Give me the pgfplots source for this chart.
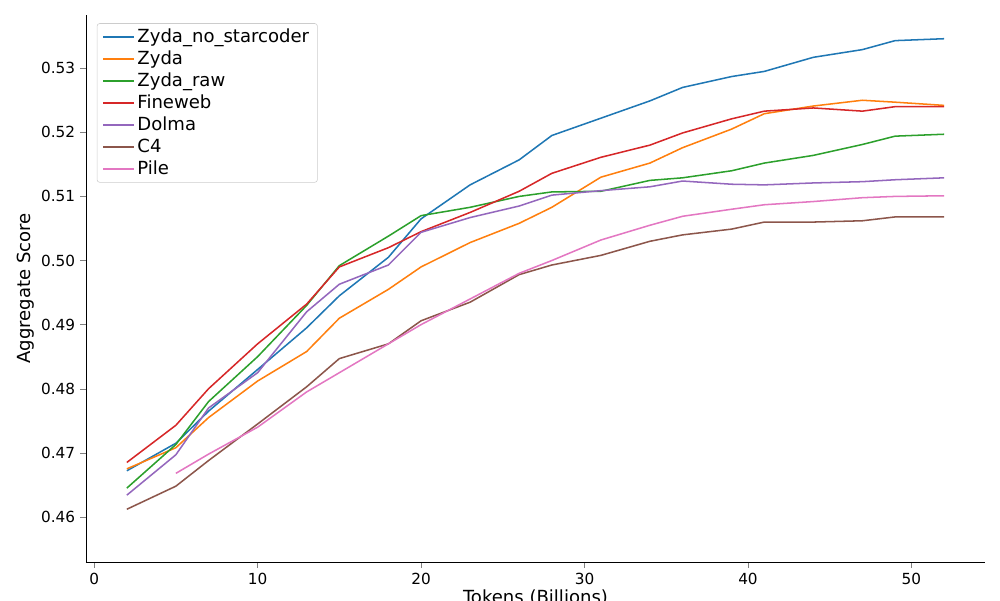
\documentclass[border=0pt]{standalone}
\usepackage{pgfplots}
\pgfplotsset{compat=1.18}
\usepackage{fontspec}
\setmainfont{DejaVu Sans}
\definecolor{c0}{HTML}{1F77B4}\definecolor{c1}{HTML}{FF7F0E}\definecolor{c2}{HTML}{2CA02C}
\definecolor{c3}{HTML}{D62728}\definecolor{c4}{HTML}{9467BD}\definecolor{c5}{HTML}{8C564B}
\definecolor{c6}{HTML}{E377C2}
\begin{document}
\begin{tikzpicture}
\useasboundingbox (-61.9pt,-27.4pt) rectangle (658.1pt,404.6pt);
\begin{axis}[at={(0,0)},anchor=south west,
 scale only axis, width=647.3pt, height=393.8pt,
 xmin=-0.5, xmax=54.5, ymin=0.45298, ymax=0.5383,
 axis lines*=left, tick align=outside,
 xtick={0,10,20,30,40,50}, ytick={0.46,0.47,0.48,0.49,0.50,0.51,0.52,0.53},
 yticklabel style={/pgf/number format/.cd,fixed,fixed zerofill,precision=2},
 /pgf/number format/assume math mode=true,
 ticklabel style={font=\fontsize{11}{13}\selectfont},
 xlabel={Tokens (Billions)}, ylabel={Aggregate Score},
 xlabel style={font=\fontsize{13}{15}\selectfont, yshift=3pt},
 ylabel style={font=\fontsize{13}{15}\selectfont, yshift=-2pt},
 legend style={font=\fontsize{13}{16}\selectfont, draw=black!20, rounded corners=2pt, row sep=0.5pt, at={(0.012,0.985)}, anchor=north west, inner xsep=4pt},
 legend cell align=left,
 legend image code/.code={\draw[#1] (0pt,0pt) -- (22pt,0pt);},
 every axis plot/.append style={line width=1.1pt, no marks},
]
\addplot[c0] coordinates {(2,0.4672)(5,0.4715)(7,0.4765)(10,0.4830)(13,0.4895)(15,0.4945)(18,0.5005)(20,0.5065)(23,0.5118)(26,0.5157)(28,0.5195)(31,0.5222)(34,0.5249)(36,0.5270)(39,0.5287)(41,0.5295)(44,0.5317)(47,0.5329)(49,0.5343)(52,0.5346)};
\addlegendentry{Zyda\_no\_starcoder}
\addplot[c1] coordinates {(2,0.4675)(5,0.4708)(7,0.4755)(10,0.4812)(13,0.4858)(15,0.4910)(18,0.4955)(20,0.4990)(23,0.5028)(26,0.5058)(28,0.5083)(31,0.5130)(34,0.5152)(36,0.5176)(39,0.5205)(41,0.5229)(44,0.5241)(47,0.5250)(49,0.5247)(52,0.5242)};
\addlegendentry{Zyda}
\addplot[c2] coordinates {(2,0.4645)(5,0.4713)(7,0.4780)(10,0.4850)(13,0.4930)(15,0.4992)(18,0.5038)(20,0.5070)(23,0.5083)(26,0.5100)(28,0.5107)(31,0.5108)(34,0.5125)(36,0.5129)(39,0.5140)(41,0.5152)(44,0.5164)(47,0.5181)(49,0.5194)(52,0.5197)};
\addlegendentry{Zyda\_raw}
\addplot[c3] coordinates {(2,0.4685)(5,0.4743)(7,0.4800)(10,0.4870)(13,0.4932)(15,0.4990)(18,0.5020)(20,0.5045)(23,0.5075)(26,0.5108)(28,0.5136)(31,0.5161)(34,0.5180)(36,0.5199)(39,0.5221)(41,0.5233)(44,0.5238)(47,0.5233)(49,0.5240)(52,0.5240)};
\addlegendentry{Fineweb}
\addplot[c4] coordinates {(2,0.4634)(5,0.4697)(7,0.4770)(10,0.4825)(13,0.4920)(15,0.4963)(18,0.4993)(20,0.5044)(23,0.5067)(26,0.5085)(28,0.5102)(31,0.5109)(34,0.5115)(36,0.5124)(39,0.5119)(41,0.5118)(44,0.5121)(47,0.5123)(49,0.5126)(52,0.5129)};
\addlegendentry{Dolma}
\addplot[c5] coordinates {(2,0.4612)(5,0.4648)(7,0.4688)(10,0.4745)(13,0.4803)(15,0.4847)(18,0.4870)(20,0.4906)(23,0.4935)(26,0.4978)(28,0.4993)(31,0.5008)(34,0.5030)(36,0.5040)(39,0.5049)(41,0.5060)(44,0.5060)(47,0.5062)(49,0.5068)(52,0.5068)};
\addlegendentry{C4}
\addplot[c6] coordinates {(5,0.4668)(7,0.4698)(10,0.4740)(13,0.4795)(15,0.4825)(18,0.4870)(20,0.4900)(23,0.4940)(26,0.4980)(28,0.5000)(31,0.5032)(34,0.5055)(36,0.5069)(39,0.5080)(41,0.5087)(44,0.5092)(47,0.5098)(49,0.5100)(52,0.5101)};
\addlegendentry{Pile}
\end{axis}
\end{tikzpicture}
\end{document}
